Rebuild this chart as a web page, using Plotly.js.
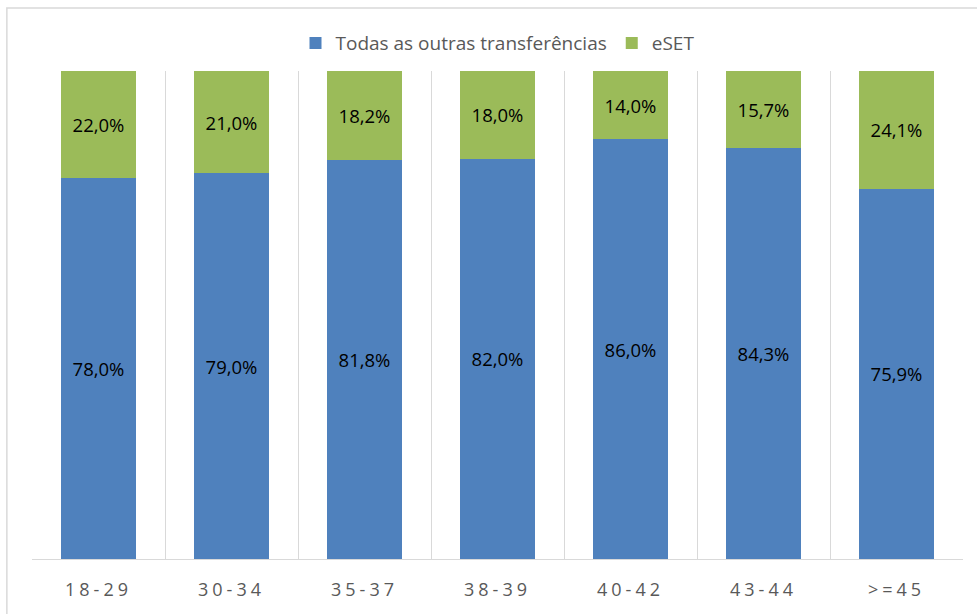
<!DOCTYPE html>
<html>
<head>
<meta charset="utf-8">
<script src="https://cdn.plot.ly/plotly-3.0.1.min.js"></script>
<style>
body { margin: 0; background: #fff; }
#chart { width: 977px; height: 614px; }
.xtick text { letter-spacing: 4px; }
</style>
</head>
<body>
<div id="chart"></div>
<script>
const categories = ["18-29", "30-34", "35-37", "38-39", "40-42", "43-44", ">=45"];
const outrasValues = [78.0, 79.0, 81.8, 82.0, 86.0, 84.3, 75.9];
const esetValues = [22.0, 21.0, 18.2, 18.0, 14.0, 15.7, 24.1];
const seriesNames = ["Todas as outras transferências", "eSET"];

const labelFont = {family: "Open Sans, Noto Sans, sans-serif", size: 18.5, color: "#000000"};

const traces = [
  {
    type: "bar", name: seriesNames[0], x: categories, y: outrasValues,
    marker: {color: "#4F81BD"},
    texttemplate: "%{y:.1f}%", textposition: "inside", insidetextanchor: "middle",
    textfont: labelFont, hoverinfo: "skip"
  },
  {
    type: "bar", name: seriesNames[1], x: categories, y: esetValues,
    marker: {color: "#9BBB59"},
    texttemplate: "%{y:.1f}%", textposition: "inside", insidetextanchor: "middle",
    textfont: labelFont, hoverinfo: "skip"
  }
];

const layout = {
  width: 977, height: 614,
  barmode: "stack", bargap: 0.44,
  separators: ",.",
  margin: {l: 32, r: 14, t: 71, b: 55},
  paper_bgcolor: "#ffffff", plot_bgcolor: "#ffffff",
  font: {family: "Open Sans, Noto Sans, sans-serif", color: "#595959"},
  showlegend: true,
  legend: {
    orientation: "h", x: 0.5, xanchor: "center", y: 1.057, yanchor: "middle",
    font: {size: 19, color: "#595959"}, traceorder: "normal", itemwidth: 30
  },
  xaxis: {
    type: "category", tickson: "boundaries", showgrid: true, gridcolor: "#d9d9d9", gridwidth: 1,
    ticks: "", showline: true, linecolor: "#d9d9d9", linewidth: 1, ticklabelstandoff: 14,
    tickfont: {size: 18, color: "#595959"}, fixedrange: true
  },
  yaxis: {
    range: [0, 100], visible: false, showgrid: false, zeroline: false, fixedrange: true
  },
  shapes: [
    {type: "rect", xref: "paper", yref: "paper", x0: -0.027, x1: 1.1, y0: -0.3, y1: 1.129,
     line: {color: "#d9d9d9", width: 1.5}, fillcolor: "rgba(0,0,0,0)", layer: "below"}
  ]
};

Plotly.newPlot("chart", traces, layout, {displayModeBar: false, staticPlot: true});
</script>
</body>
</html>
